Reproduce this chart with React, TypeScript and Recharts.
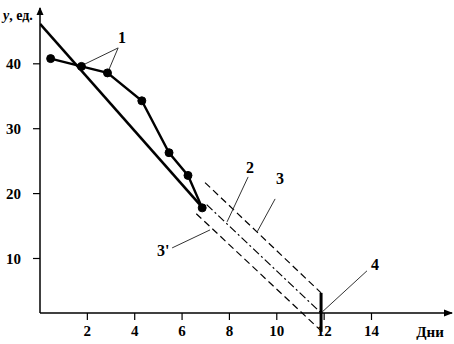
import React from 'react';
import { ComposedChart, Line, XAxis, YAxis, ReferenceLine, ReferenceDot } from 'recharts';

// Observed values (curve 1 with points)
const days = [0.45, 1.75, 2.85, 4.3, 5.45, 6.25, 6.85];
const observed = [40.8, 39.6, 38.6, 34.3, 26.3, 22.8, 17.8];

// Fitted trend (curve 1, straight)
const trendDays = [0, 6.9];
const trendValues = [46.15, 17.7];

// Forecast (2), upper bound (3), lower bound (3'), horizon (4)
const forecastDays = [7.04, 11.87];
const forecastValues = [18.3, 1.6];
const upperDays = [6.97, 11.87];
const upperValues = [21.7, 4.7];
const lowerDays = [6.6, 11.83];
const lowerValues = [16.9, -1.0];
const horizonDay = 11.87;
const horizonValues = [4.7, -1.3];

const xTicks = [2, 4, 6, 8, 10, 12, 14];
const yTicks = [10, 20, 30, 40];
const xDomain = [0, 17.4];
const yDomain = [1.6, 48.6];

const observedData = days.map((d, i) => ({ day: d, y: observed[i] }));
const trendData = trendDays.map((d, i) => ({ day: d, y: trendValues[i] }));

const seg = (xs: number[], ys: number[]) => [
  { x: xs[0], y: ys[0] },
  { x: xs[1], y: ys[1] },
];

// annotation labels and leader lines
const labelTexts = ['1', '2', '3', "3'", '4'];
const labelX = [3.46, 8.87, 10.14, 5.2, 14.15];
const labelY = [43.99, 23.96, 22.3, 11.2, 9.0];
const leaders: { x: number; y: number }[][] = [
  [{ x: 3.3, y: 42.45 }, { x: 1.82, y: 39.83 }],
  [{ x: 3.3, y: 42.45 }, { x: 2.87, y: 38.75 }],
  [{ x: 8.79, y: 22.57 }, { x: 7.9, y: 15.64 }],
  [{ x: 9.93, y: 19.18 }, { x: 9.17, y: 14.1 }],
  [{ x: 5.58, y: 11.63 }, { x: 7.18, y: 14.4 }],
  [{ x: 11.87, y: 1.6 }, { x: 13.81, y: 8.1 }],
];

const FONT = 'Liberation Serif, Times New Roman, serif';
const textStyle = { fontFamily: FONT, fontWeight: 700 };
const tickStyle = { fontFamily: FONT, fontWeight: 700, fontSize: 15, fill: '#000', style: textStyle };

const textShape = (t: string) => (p: any) => (
  <text
    x={p.cx}
    y={p.cy}
    textAnchor="middle"
    dominantBaseline="central"
    style={textStyle}
    fontSize={16}
    fill="#000"
  >
    {t}
  </text>
);

const upArrow = (p: any) => (
  <polygon
    points={`${p.cx - 3.5},${p.cy + 7} ${p.cx},${p.cy - 1} ${p.cx + 3.5},${p.cy + 7}`}
    fill="#000"
  />
);
const rightArrow = (p: any) => (
  <polygon
    points={`${p.cx - 8},${p.cy - 3.5} ${p.cx + 1},${p.cy} ${p.cx - 8},${p.cy + 3.5}`}
    fill="#000"
  />
);

export default function App() {
  return (
    <div style={{ position: 'absolute', left: 0, top: 0, width: 454, height: 344, background: '#fff', fontFamily: FONT }}>
      <ComposedChart width={454} height={344} margin={{ top: 8, right: 2, left: 0, bottom: 0 }}>
        <XAxis
          type="number"
          dataKey="day"
          domain={xDomain}
          ticks={xTicks}
          allowDataOverflow
          height={31}
          tickSize={7}
          tickMargin={5}
          tick={tickStyle}
          axisLine={{ stroke: '#000', strokeWidth: 1.5 }}
          tickLine={{ stroke: '#000', strokeWidth: 1.2 }}
          label={{
            content: (props: any) => {
              const vb = props.viewBox || { x: 40, y: 313, width: 412, height: 31 };
              return (
                <text
                  x={vb.x + vb.width - 22}
                  y={vb.y + 24}
                  textAnchor="middle"
                  style={textStyle}
                  fontSize={15}
                  fill="#000"
                >
                  Дни
                </text>
              );
            },
          }}
        />
        <YAxis
          type="number"
          domain={yDomain}
          ticks={yTicks}
          allowDataOverflow
          width={40}
          tickSize={7}
          tickMargin={12}
          tick={tickStyle}
          axisLine={{ stroke: '#000', strokeWidth: 1.5 }}
          tickLine={{ stroke: '#000', strokeWidth: 1.2 }}
          label={{
            content: (props: any) => {
              const vb = props.viewBox || { x: 0, y: 8, width: 40, height: 305 };
              return (
                <text x={vb.x + 3} y={vb.y + 12} style={textStyle} fontSize={14} fill="#000">
                  <tspan fontStyle="italic">y</tspan>, ед.
                </text>
              );
            },
          }}
        />
        <Line
          data={trendData}
          dataKey="y"
          type="linear"
          stroke="#000"
          strokeWidth={2.6}
          dot={false}
          isAnimationActive={false}
        />
        <Line
          data={observedData}
          dataKey="y"
          type="linear"
          stroke="#000"
          strokeWidth={2.4}
          dot={{ r: 4, fill: '#000', stroke: '#000', strokeWidth: 1 }}
          isAnimationActive={false}
        />
        <ReferenceLine
          segment={seg(forecastDays, forecastValues)}
          stroke="#000"
          strokeWidth={1.2}
          strokeDasharray="8 3 2 3"
          ifOverflow="visible"
        />
        <ReferenceLine
          segment={seg(upperDays, upperValues)}
          stroke="#000"
          strokeWidth={1.2}
          strokeDasharray="7 4"
          ifOverflow="visible"
        />
        <ReferenceLine
          segment={seg(lowerDays, lowerValues)}
          stroke="#000"
          strokeWidth={1.2}
          strokeDasharray="7 4"
          ifOverflow="visible"
        />
        <ReferenceLine
          segment={[
            { x: horizonDay, y: horizonValues[0] },
            { x: horizonDay, y: horizonValues[1] },
          ]}
          stroke="#000"
          strokeWidth={3}
          ifOverflow="visible"
        />
        {leaders.map((l, i) => (
          <ReferenceLine key={'l' + i} segment={l} stroke="#333" strokeWidth={1} ifOverflow="visible" />
        ))}
        {labelTexts.map((t, i) => (
          <ReferenceDot key={'t' + i} x={labelX[i]} y={labelY[i]} r={0} ifOverflow="visible" shape={textShape(t)} />
        ))}
        <ReferenceDot x={xDomain[0]} y={yDomain[1]} r={0} ifOverflow="visible" shape={upArrow} />
        <ReferenceDot x={xDomain[1]} y={yDomain[0]} r={0} ifOverflow="visible" shape={rightArrow} />
      </ComposedChart>
    </div>
  );
}
